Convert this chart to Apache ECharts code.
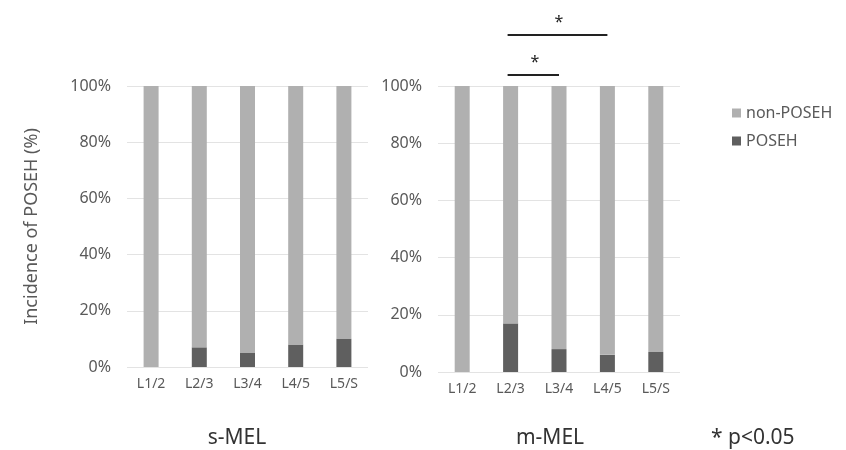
<!DOCTYPE html>
<html><head><meta charset="utf-8">
<script src="https://cdn.jsdelivr.net/npm/echarts@6/dist/echarts.min.js"></script>
<style>html,body{margin:0;padding:0;background:#fff}#c{width:846px;height:450px}</style>
</head><body><div id="c"></div>
<script>
const categories = ['L1/2','L2/3','L3/4','L4/5','L5/S'];
const sMelPoseh = [0, 7, 5, 8, 10];
const sMelNon = [100, 93, 95, 92, 90];
const mMelPoseh = [0, 17, 8, 6, 7];
const mMelNon = [100, 83, 92, 94, 93];
const yTicks = [0, 20, 40, 60, 80, 100];
const panelTitles = ['s-MEL', 'm-MEL'];
const note = '* p<0.05';
const brackets = [ {from:'L2/3', to:'L3/4', label:'*', rise:11}, {from:'L2/3', to:'L4/5', label:'*', rise:51} ];

const FONT = '"Noto Sans",sans-serif';
const cPoseh = '#5f5f5f', cNon = '#b0b0b0', txt = '#595959';
const chart = echarts.init(document.getElementById('c'), null, {renderer:'canvas'});

function yAxis(gi, name){
  return {type:'value', gridIndex:gi, min:0, max:100, interval:20,
    axisLabel:{formatter:'{value}%', color:txt, fontSize:16, fontFamily:FONT, margin:16},
    axisLine:{show:false}, axisTick:{show:false},
    splitLine:{lineStyle:{color:'#e3e3e3', width:1}},
    name:name||'', nameLocation:'middle', nameGap:86, nameRotate:90,
    nameTextStyle:{color:txt, fontSize:18, fontFamily:FONT}};
}
function xAxis(gi){
  return {type:'category', gridIndex:gi, data:categories,
    axisLine:{show:false}, axisTick:{show:false},
    axisLabel:{color:txt, fontSize:14, fontFamily:FONT, margin:10}};
}
function bars(gi, pos, non){
  return [
    {name:'POSEH', type:'bar', xAxisIndex:gi, yAxisIndex:gi, stack:'s'+gi, data:pos, barWidth:15, itemStyle:{color:cPoseh}, silent:true},
    {name:'non-POSEH', type:'bar', xAxisIndex:gi, yAxisIndex:gi, stack:'s'+gi, data:non, barWidth:15, itemStyle:{color:cNon}, silent:true}
  ];
}
chart.setOption({
  animation:false,
  grid:[{left:127, right:478, top:86, bottom:83}, {left:438, right:166, top:86, bottom:78}],
  xAxis:[xAxis(0), xAxis(1)],
  yAxis:[yAxis(0, 'Incidence of POSEH (%)'), yAxis(1)],
  legend:{data:['non-POSEH','POSEH'], orient:'vertical', left:727, top:100, itemWidth:9, itemHeight:9, itemGap:12,
    icon:'rect', textStyle:{color:txt, fontSize:16, fontFamily:FONT}},
  title:[
    {text:panelTitles[0], left:232, top:423, textAlign:'center', textStyle:{color:'#333', fontSize:21, fontWeight:'normal', fontFamily:FONT}},
    {text:panelTitles[1], left:545, top:423, textAlign:'center', textStyle:{color:'#333', fontSize:21, fontWeight:'normal', fontFamily:FONT}},
    {text:note, left:706, top:423, textStyle:{color:'#333', fontSize:21, fontWeight:'normal', fontFamily:FONT}}
  ],
  series:[...bars(0, sMelPoseh, sMelNon), ...bars(1, mMelPoseh, mMelNon)]
});

const g = [];
brackets.forEach(b => {
  const p1 = chart.convertToPixel({xAxisIndex:1, yAxisIndex:1}, [b.from, 100]);
  const p2 = chart.convertToPixel({xAxisIndex:1, yAxisIndex:1}, [b.to, 100]);
  const y = p1[1] - b.rise;
  g.push({type:'line', shape:{x1:p1[0]-3, y1:y, x2:p2[0], y2:y}, style:{stroke:'#222', lineWidth:2}});
  g.push({type:'text', x:(p1[0]+p2[0])/2, y:y-13, style:{text:b.label, fill:'#222', fontSize:16, fontFamily:FONT, align:'center', verticalAlign:'middle'}});
});
chart.setOption({graphic:g});
</script></body></html>
